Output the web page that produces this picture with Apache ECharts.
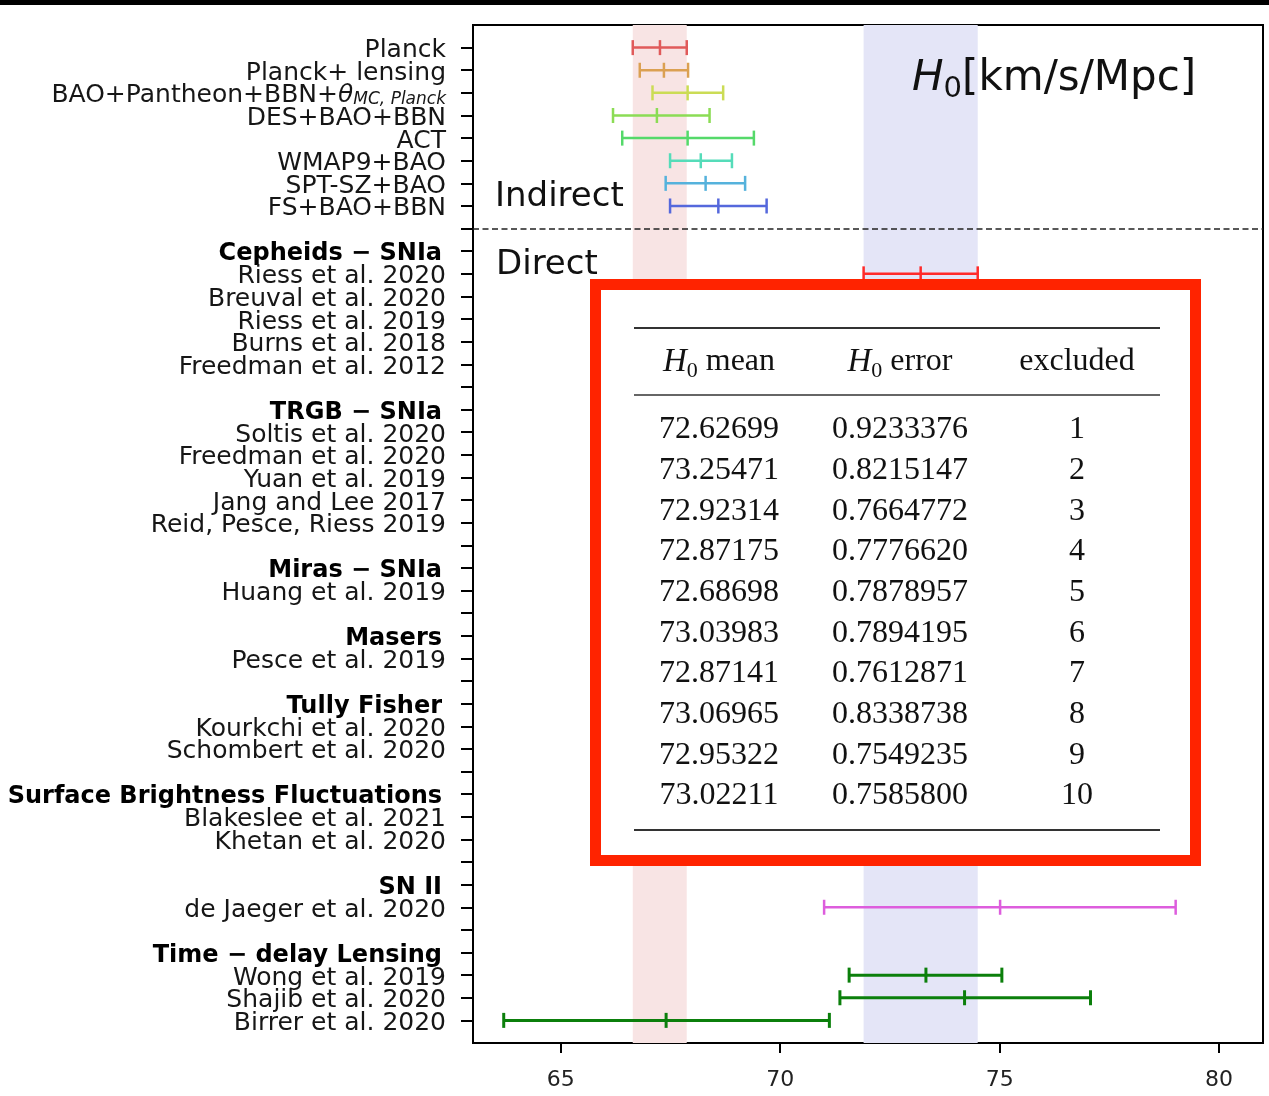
<!DOCTYPE html>
<html><head><meta charset="utf-8">
<script src="https://cdn.jsdelivr.net/npm/echarts@6/dist/echarts.min.js"></script>
<style>html,body{margin:0;padding:0;background:#fff;}#chart{width:1269px;height:1096px;}</style>
</head><body><div id="chart"></div>
<script>
// ---------------- data ----------------
const rowLabels = [
  'Planck', 'Planck+ lensing', 'BAO+Pantheon+BBN+θ_MC, Planck', 'DES+BAO+BBN', 'ACT',
  'WMAP9+BAO', 'SPT-SZ+BAO', 'FS+BAO+BBN', '',
  'Cepheids − SNIa', 'Riess et al. 2020', 'Breuval et al. 2020', 'Riess et al. 2019',
  'Burns et al. 2018', 'Freedman et al. 2012', '',
  'TRGB − SNIa', 'Soltis et al. 2020', 'Freedman et al. 2020', 'Yuan et al. 2019',
  'Jang and Lee 2017', 'Reid, Pesce, Riess 2019', '',
  'Miras − SNIa', 'Huang et al. 2019', '',
  'Masers', 'Pesce et al. 2019', '',
  'Tully Fisher', 'Kourkchi et al. 2020', 'Schombert et al. 2020', '',
  'Surface Brightness Fluctuations', 'Blakeslee et al. 2021', 'Khetan et al. 2020', '',
  'SN II', 'de Jaeger et al. 2020', '',
  'Time − delay Lensing', 'Wong et al. 2019', 'Shajib et al. 2020', 'Birrer et al. 2020'
];
const boldRows = [9, 16, 23, 26, 29, 33, 37, 40];
const dashedRow = 8;

// visible error bars (row index, low, mean, high)
const barRows = [0, 1, 2, 3, 4, 5, 6, 7, 10, 38, 41, 42, 43];
const barLow  = [66.64, 66.80, 67.09, 66.19, 66.40, 67.49, 67.39, 67.49, 71.90, 71.00, 71.57, 71.36, 63.70];
const barMean = [67.26, 67.35, 67.89, 67.19, 67.89, 68.19, 68.30, 68.59, 73.20, 75.01, 73.32, 74.20, 67.40];
const barHigh = [67.87, 67.90, 68.70, 68.39, 69.40, 68.90, 69.20, 69.69, 74.50, 79.01, 75.05, 77.07, 71.12];

const xTicks = [65, 70, 75, 80];

const tableHeaders = ['H0 mean', 'H0 error', 'excluded'];
const tableMean = ['72.62699', '73.25471', '72.92314', '72.87175', '72.68698', '73.03983', '72.87141', '73.06965', '72.95322', '73.02211'];
const tableError = ['0.9233376', '0.8215147', '0.7664772', '0.7776620', '0.7878957', '0.7894195', '0.7612871', '0.8338738', '0.7549235', '0.7585800'];
const tableExcluded = ['1', '2', '3', '4', '5', '6', '7', '8', '9', '10'];

// ---------------- styles ----------------
const barColors = ['#e05a5a', '#dba052', '#cbdc55', '#8bdc55', '#55d96a', '#55dcb9', '#55b2dc', '#5568dc',
                   '#ff2a2a', '#dd5ddd', '#0b7f0b', '#0b7f0b', '#0b7f0b'];
const barWidths = [2.5, 2.5, 2.5, 2.5, 2.5, 2.5, 2.5, 2.5, 2.5, 2.5, 3, 3, 3];

const chart = echarts.init(document.getElementById('chart'), null, {renderer: 'canvas'});
const rowIdx = rowLabels.map((_, i) => i);
// empty guard labels at the axis ends so no real label is dropped by min/max overlap logic
const labelValues = [-1].concat(rowIdx, [44]);

function labelFormatter(v) {
  const s = rowLabels[v];
  if (s === undefined || s === '') return '';
  if (boldRows.indexOf(v) >= 0) return '{b|' + s + '}';
  if (s.indexOf('θ_') >= 0) {
    const parts = s.split('θ_');
    return '{n2|' + parts[0] + '}{th|θ}{sub|' + parts[1] + '}';
  }
  return '{n|' + s + '}';
}

const errorData = barRows.map((r, i) => [r, barLow[i], barMean[i], barHigh[i]]);

const planckBand = [barLow[0], barHigh[0]];
const sh0esBand = [barLow[8], barHigh[8]];

// table layout
const T = {x: 590, y: 279, w: 611, h: 587, bw: 11, ruleX1: 634, ruleX2: 1160,
           rules: [[328, 2], [395, 1.6], [830, 2]], headY: 362, rowY0: 430, rowStep: 40.67,
           colX: [719, 900, 1077]};
const serif = 'Liberation Serif, Times New Roman, serif';
const tableRich = {
  i: {fontFamily: serif, fontStyle: 'italic', fontSize: 33, lineHeight: 40, fill: '#111', color: '#111'},
  s: {fontFamily: serif, fontSize: 22, lineHeight: 26, verticalAlign: 'bottom', fill: '#111', color: '#111'},
  n: {fontFamily: serif, fontSize: 32, lineHeight: 40, fill: '#111', color: '#111'}
};
function headRich(h) {
  if (h.indexOf('H0') === 0) return '{i|H}{s|0}{n|' + h.slice(2) + '}';
  return '{n|' + h + '}';
}
const graphics = [];
graphics.push({type: 'rect', z: 200, shape: {x: 0, y: 0, width: 1269, height: 5}, style: {fill: '#000'}});
graphics.push({type: 'rect', z: 100,
  shape: {x: T.x + T.bw / 2, y: T.y + T.bw / 2, width: T.w - T.bw, height: T.h - T.bw},
  style: {fill: '#fff', stroke: '#ff2300', lineWidth: T.bw}});
T.rules.forEach(r => graphics.push({type: 'line', z: 101,
  shape: {x1: T.ruleX1, y1: r[0], x2: T.ruleX2, y2: r[0]}, style: {stroke: '#333', lineWidth: r[1]}}));
tableHeaders.forEach((h, c) => graphics.push({type: 'text', z: 101, x: T.colX[c], y: T.headY,
  style: {text: headRich(h), rich: tableRich, align: 'center', verticalAlign: 'middle',
          textAlign: 'center', textVerticalAlign: 'middle', fill: '#111'}}));
[tableMean, tableError, tableExcluded].forEach((col, c) => col.forEach((v, i) => graphics.push({
  type: 'text', z: 101, x: T.colX[c], y: T.rowY0 + i * T.rowStep,
  style: {text: v, font: '32px ' + serif, fill: '#111', align: 'center', verticalAlign: 'middle',
          textAlign: 'center', textVerticalAlign: 'middle'}})));
// annotations
const sans = 'DejaVu Sans';
graphics.push({type: 'text', z: 50, x: 495, y: 197,
  style: {text: 'Indirect', font: '34px ' + sans, fill: '#111', verticalAlign: 'middle', textVerticalAlign: 'middle'}});
graphics.push({type: 'text', z: 50, x: 496, y: 265,
  style: {text: 'Direct', font: '34px ' + sans, fill: '#111', verticalAlign: 'middle', textVerticalAlign: 'middle'}});
graphics.push({type: 'text', z: 50, x: 912, y: 79,
  style: {text: '{i|H}{s|0}{n|[km/s/Mpc]}', verticalAlign: 'middle', textVerticalAlign: 'middle',
    rich: {
      i: {fontFamily: sans, fontStyle: 'italic', fontSize: 42, lineHeight: 50, fill: '#111', color: '#111'},
      s: {fontFamily: sans, fontSize: 29, lineHeight: 30, verticalAlign: 'bottom', fill: '#111', color: '#111'},
      n: {fontFamily: sans, fontSize: 42, lineHeight: 50, fill: '#111', color: '#111'}
    }}});

const option = {
  backgroundColor: '#fff',
  animation: false,
  grid: {left: 473, top: 25, width: 790, height: 1018, show: true, borderColor: '#000', borderWidth: 2,
         backgroundColor: 'transparent'},
  xAxis: {
    type: 'value', min: 63, max: 81,
    axisLine: {show: true, onZero: false, lineStyle: {color: '#000', width: 2}},
    axisTick: {show: true, customValues: xTicks, length: 10, lineStyle: {color: '#000', width: 2}},
    axisLabel: {customValues: xTicks, margin: 26, fontFamily: sans, fontSize: 22, color: '#222'},
    splitLine: {show: false}
  },
  yAxis: {
    type: 'value', inverse: true, min: -1, max: 44,
    axisLine: {show: true, onZero: false, lineStyle: {color: '#000', width: 2}},
    axisTick: {show: true, customValues: rowIdx, length: 12, lineStyle: {color: '#000', width: 2}},
    axisLabel: {
      customValues: labelValues, margin: 27, formatter: labelFormatter,
      showMinLabel: true, showMaxLabel: true, hideOverlap: false,
      rich: {
        n: {fontFamily: sans, fontSize: 25, color: '#161616', padding: [6, 0, 0, 0]},
        n2: {fontFamily: sans, fontSize: 25, color: '#161616', lineHeight: 30, padding: [6, 0, 0, 0]},
        b: {fontFamily: sans, fontSize: 24, fontWeight: 'bold', color: '#000', padding: [6, 4, 0, 0]},
        th: {fontFamily: sans, fontSize: 25, fontStyle: 'italic', color: '#161616', lineHeight: 30, padding: [6, 0, 0, 0]},
        sub: {fontFamily: sans, fontSize: 17, fontStyle: 'italic', color: '#161616', lineHeight: 17, verticalAlign: 'bottom'}
      }
    },
    splitLine: {show: false}
  },
  graphic: {elements: graphics},
  series: [
    {
      type: 'line', data: [], z: 1, silent: true,
      markArea: {silent: true, data: [
        [{xAxis: planckBand[0], itemStyle: {color: '#f8e4e4'}}, {xAxis: planckBand[1]}],
        [{xAxis: sh0esBand[0], itemStyle: {color: '#e4e5f7'}}, {xAxis: sh0esBand[1]}]
      ]}
    },
    {
      type: 'line', data: [], z: 3, silent: true,
      markLine: {silent: true, symbol: 'none', label: {show: false},
        lineStyle: {type: [6, 3.5], color: '#222', width: 1.6},
        data: [{yAxis: dashedRow}]}
    },
    {
      type: 'custom', z: 4, data: errorData, encode: {x: [1, 2, 3], y: 0},
      renderItem: function (params, api) {
        const row = api.value(0);
        const pL = api.coord([api.value(1), row]);
        const pM = api.coord([api.value(2), row]);
        const pH = api.coord([api.value(3), row]);
        const c = barColors[params.dataIndex];
        const lw = barWidths[params.dataIndex];
        const h = 7.5;
        const st = {stroke: c, lineWidth: lw};
        const v = p => ({type: 'line', shape: {x1: p[0], y1: p[1] - h, x2: p[0], y2: p[1] + h}, style: st});
        return {type: 'group', children: [
          {type: 'line', shape: {x1: pL[0], y1: pL[1], x2: pH[0], y2: pH[1]}, style: st},
          v(pL), v(pM), v(pH)
        ]};
      }
    }
  ]
};
chart.setOption(option);
</script>
</body></html>
